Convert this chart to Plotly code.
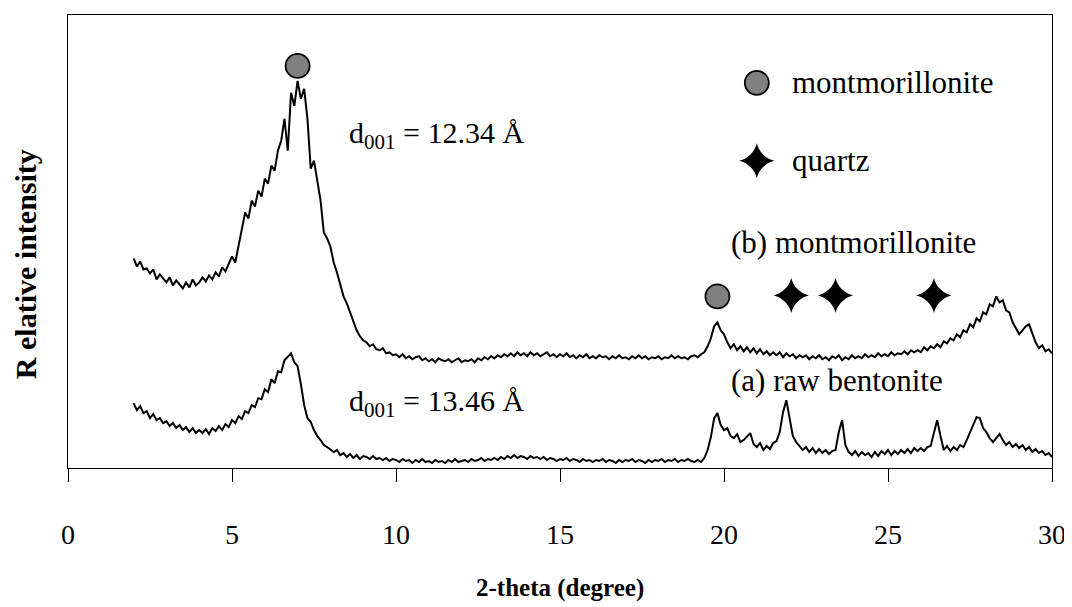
import numpy as np
import plotly.graph_objects as go

# 2-theta sampling grid (degree), 0.1 degree step from 2 to 30
two_theta = np.round(np.arange(2.0, 30.05, 0.1), 2)   # 281 pts

# (b) montmorillonite, relative intensity (arbitrary units)
mont_low = [210, 202, 207, 199, 200, 195, 199, 189, 194, 190,
            186, 191, 183, 188, 184, 180, 186, 181, 189, 183,
            186, 191, 187, 193, 189, 196, 192, 201, 197, 204,
            212, 206, 223, 240, 256, 250, 268, 262, 278, 272,
            290, 285, 303, 298, 318, 328, 350, 318, 376, 363,
            388, 370, 380, 350, 300, 308, 286, 268, 236, 230,
            222, 206, 196, 184, 172, 165, 156, 146, 138, 132,
            128]
mont_mid = [126, 122, 124, 119, 118, 120, 115, 116, 113, 114,
            111, 114, 110, 112, 109, 111, 112, 108, 110, 107,
            109, 106, 110, 108, 107, 109, 106, 108, 110, 106,
            108, 107, 109, 106, 110, 108, 111, 109, 112, 110,
            113, 111, 114, 112, 115, 112, 116, 113, 115, 112,
            116, 113, 115, 112, 114, 116, 112, 114, 111, 114,
            112, 115, 111, 113, 110, 113, 111, 114, 110, 112,
            110, 113, 111, 112, 109, 112, 110, 113, 110, 111,
            109, 112, 110, 113, 110, 112, 109, 111, 110, 112,
            109, 111, 110, 113, 110, 112, 110, 111, 109, 112]
mont_high = [113, 111, 114, 116, 122, 130, 142, 146, 138, 134,
             126, 120, 124, 118, 122, 117, 121, 116, 120, 115,
             119, 114, 117, 113, 116, 113, 116, 111, 115, 112,
             114, 110, 113, 111, 113, 109, 112, 110, 113, 109,
             111, 108, 112, 110, 113, 108, 111, 109, 113, 110,
             112, 110, 114, 111, 113, 111, 115, 112, 114, 112,
             116, 113, 115, 114, 117, 114, 118, 116, 118, 116,
             121, 118, 122, 120, 124, 121, 127, 125, 130, 128,
             134, 131, 138, 136, 144, 141, 150, 147, 156, 154,
             164, 162, 172, 166, 168, 158, 156, 146, 140, 134,
             138, 142, 144, 134, 126, 120, 123, 117, 119, 115]

# (a) raw bentonite, relative intensity (arbitrary units)
bent_low = [65, 58, 62, 55, 57, 50, 54, 48, 50, 45,
            47, 42, 45, 40, 43, 38, 41, 36, 40, 35,
            38, 35, 39, 34, 40, 37, 42, 38, 44, 41,
            48, 45, 52, 49, 57, 55, 63, 61, 70, 69,
            79, 76, 89, 85, 97, 96, 108, 112, 115, 106,
            102, 84, 63, 50, 46, 38, 32, 28, 23, 21,
            18, 16, 18, 13, 15, 11, 14, 10, 13, 9,
            12]
bent_mid = [11, 9, 12, 9, 10, 8, 10, 7, 9, 8,
            6, 9, 7, 8, 5, 8, 6, 9, 6, 7,
            5, 8, 6, 7, 5, 8, 6, 9, 6, 7,
            8, 6, 9, 7, 8, 10, 7, 9, 8, 10,
            8, 11, 9, 12, 10, 13, 10, 12, 11, 9,
            12, 10, 11, 9, 11, 8, 10, 9, 7, 9,
            8, 10, 7, 9, 8, 6, 9, 7, 8, 6,
            8, 7, 9, 6, 8, 7, 5, 8, 6, 8,
            7, 9, 6, 8, 7, 5, 8, 6, 8, 7,
            9, 6, 8, 7, 9, 6, 8, 7, 9, 7]
bent_high = [6, 8, 6, 10, 18, 31, 50, 55, 43, 38,
             40, 32, 30, 34, 26, 28, 32, 35, 24, 21,
             25, 18, 22, 19, 25, 27, 36, 56, 68, 50,
             32, 26, 22, 18, 21, 16, 20, 15, 19, 15,
             18, 14, 17, 18, 36, 48, 23, 16, 13, 17,
             12, 16, 13, 15, 11, 16, 12, 17, 14, 18,
             13, 17, 14, 18, 15, 19, 15, 20, 17, 20,
             17, 21, 22, 36, 48, 32, 18, 22, 17, 21,
             18, 23, 21, 28, 36, 44, 51, 50, 40, 36,
             30, 26, 30, 34, 28, 23, 26, 21, 24, 20,
             23, 18, 21, 16, 19, 15, 17, 13, 15, 11]

# phase markers (2-theta, intensity)
mont_mark_x = [7.0, 19.8]
mont_mark_y = [403, 172]
quartz_mark_x = [22.05, 23.4, 26.4]
quartz_mark_y = [173, 173, 173]

# key (marker position, label position)
key_marker_x = 21.0
key_label_x = 22.0
key_mont_y = 386
key_quartz_y = 308

x_ticks = [0, 5, 10, 15, 20, 25, 30]

mont = mont_low + mont_mid + mont_high
bent = bent_low + bent_mid + bent_high

SERIF = "Liberation Serif, Times New Roman, serif"

fig = go.Figure()
fig.add_trace(go.Scatter(x=two_theta, y=mont, mode="lines",
                         line=dict(color="black", width=2), showlegend=False))
fig.add_trace(go.Scatter(x=two_theta, y=bent, mode="lines",
                         line=dict(color="black", width=2), showlegend=False))
fig.add_trace(go.Scatter(x=mont_mark_x + [key_marker_x], y=mont_mark_y + [key_mont_y],
                         mode="markers",
                         marker=dict(symbol="circle", size=24, color="#808080",
                                     line=dict(color="black", width=1.8)),
                         showlegend=False))
fig.add_trace(go.Scatter(x=quartz_mark_x + [key_marker_x], y=quartz_mark_y + [key_quartz_y],
                         mode="markers",
                         marker=dict(symbol="star-diamond", size=25, color="black",
                                     line=dict(width=0)),
                         showlegend=False))

def note(x, y, text, size=31):
    fig.add_annotation(x=x, y=y, xref="x", yref="y", text=text, showarrow=False,
                       xanchor="left", yanchor="middle",
                       font=dict(family=SERIF, size=size, color="black"))

note(key_label_x, key_mont_y, "montmorillonite")
note(key_label_x, key_quartz_y, "quartz")
note(20.15, 226, "(b) montmorillonite")
note(20.15, 88, "(a) raw bentonite")
note(8.5, 334, "d<sub>001</sub> = 12.34 Å", 30)
note(8.5, 65, "d<sub>001</sub> = 13.46 Å", 30)

fig.add_annotation(x=0.5, y=0, xref="paper", yref="paper", yshift=-120,
                   text="<b>2-theta (degree)</b>", showarrow=False,
                   xanchor="center", yanchor="middle",
                   font=dict(family=SERIF, size=25, color="black"))
fig.add_annotation(x=0, y=0.45, xref="paper", yref="paper", xshift=-43,
                   text="<b>R elative intensity</b>", showarrow=False, textangle=-90,
                   xanchor="center", yanchor="middle",
                   font=dict(family=SERIF, size=30, color="black"))

fig.update_xaxes(range=[0, 30], tickvals=x_ticks, ticks="outside", ticklen=13,
                 tickwidth=1, tickcolor="black", showline=True, linecolor="black",
                 linewidth=1, mirror=True, showgrid=False, zeroline=False,
                 ticklabelstandoff=28,
                 tickfont=dict(family=SERIF, size=28, color="black"))
fig.update_yaxes(range=[0, 454], showticklabels=False, ticks="", showline=True,
                 linecolor="black", linewidth=1, mirror=True, showgrid=False,
                 zeroline=False)

# the page adds an 8px body margin, so the figure is 8px smaller and its
# margins 8px tighter on the left/top to keep the frame where the reference has it
fig.update_layout(width=1064, height=599, margin=dict(l=60, r=16, t=6, b=139),
                  plot_bgcolor="white", paper_bgcolor="white")

fig.write_html("out.html")
